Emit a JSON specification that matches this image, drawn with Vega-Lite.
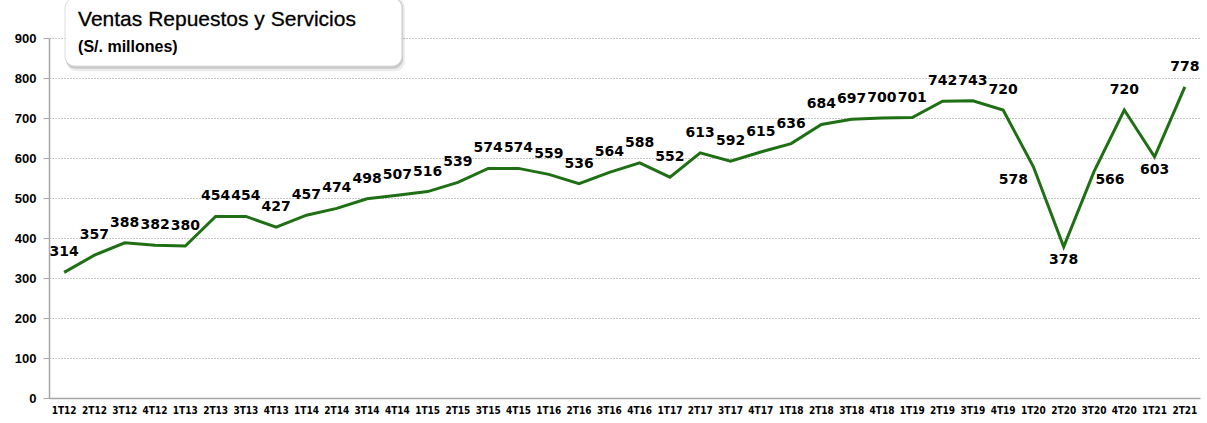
{
  "$schema": "https://vega.github.io/schema/vega-lite/v6.json",
  "width": 1151,
  "height": 360,
  "autosize": {"type": "none"},
  "padding": {"left": 49, "top": 38, "right": 7, "bottom": 25},
  "background": "white",
  "config": {
    "view": {"stroke": null},
    "axisX": {"title": null, "labelAngle": 0, "ticks": false, "domainColor": "#a6a6a6", "domainWidth": 1.5,
      "labelPadding": 7, "labelFont": "DejaVu Sans Condensed", "labelFontWeight": "bold", "labelFontSize": 10,
      "labelColor": "#000000", "grid": false},
    "axisY": {"title": null, "tickCount": 9, "tickColor": "#a6a6a6", "tickSize": 6,
      "domainColor": "#a6a6a6", "domainWidth": 1.5, "labelPadding": 7, "labelFont": "Liberation Sans",
      "labelFontWeight": "bold", "labelFontSize": 13, "labelColor": "#000000",
      "grid": true, "gridDash": [1, 2], "gridColor": "#8c8c8c", "gridWidth": 1}
  },
  "data": {
    "values": [
      {"q": "1T12", "v": 314}, {"q": "2T12", "v": 357}, {"q": "3T12", "v": 388}, {"q": "4T12", "v": 382},
      {"q": "1T13", "v": 380}, {"q": "2T13", "v": 454}, {"q": "3T13", "v": 454}, {"q": "4T13", "v": 427},
      {"q": "1T14", "v": 457}, {"q": "2T14", "v": 474}, {"q": "3T14", "v": 498}, {"q": "4T14", "v": 507},
      {"q": "1T15", "v": 516}, {"q": "2T15", "v": 539}, {"q": "3T15", "v": 574}, {"q": "4T15", "v": 574},
      {"q": "1T16", "v": 559}, {"q": "2T16", "v": 536}, {"q": "3T16", "v": 564}, {"q": "4T16", "v": 588},
      {"q": "1T17", "v": 552}, {"q": "2T17", "v": 613}, {"q": "3T17", "v": 592}, {"q": "4T17", "v": 615},
      {"q": "1T18", "v": 636}, {"q": "2T18", "v": 684}, {"q": "3T18", "v": 697}, {"q": "4T18", "v": 700},
      {"q": "1T19", "v": 701}, {"q": "2T19", "v": 742}, {"q": "3T19", "v": 743}, {"q": "4T19", "v": 720},
      {"q": "1T20", "v": 578}, {"q": "2T20", "v": 378}, {"q": "3T20", "v": 566}, {"q": "4T20", "v": 720},
      {"q": "1T21", "v": 603}, {"q": "2T21", "v": 778}
    ]
  },
  "layer": [
    {
      "mark": {"type": "line", "color": "#1f6f14", "strokeWidth": 3},
      "encoding": {
        "x": {
          "field": "q", "type": "ordinal",
          "scale": {"type": "band", "paddingInner": 0, "paddingOuter": 0,
            "domain": ["1T12","2T12","3T12","4T12","1T13","2T13","3T13","4T13","1T14","2T14","3T14","4T14","1T15","2T15","3T15","4T15","1T16","2T16","3T16","4T16","1T17","2T17","3T17","4T17","1T18","2T18","3T18","4T18","1T19","2T19","3T19","4T19","1T20","2T20","3T20","4T20","1T21","2T21"]}
        },
        "y": {"field": "v", "type": "quantitative", "scale": {"domain": [0, 900], "nice": false}}
      }
    },
    {
      "transform": [{"filter": {"not": {"field": "q", "oneOf": ["1T20", "2T20", "3T20", "1T21"]}}}],
      "mark": {"type": "text", "font": "DejaVu Sans", "fontWeight": "bold", "fontSize": 14, "dy": -20, "baseline": "middle", "color": "#000000"},
      "encoding": {"x": {"field": "q", "type": "ordinal"}, "y": {"field": "v", "type": "quantitative"}, "text": {"field": "v", "type": "quantitative"}}
    },
    {
      "transform": [{"filter": {"field": "q", "oneOf": ["2T20", "1T21"]}}],
      "mark": {"type": "text", "font": "DejaVu Sans", "fontWeight": "bold", "fontSize": 14, "dy": 13, "baseline": "middle", "color": "#000000"},
      "encoding": {"x": {"field": "q", "type": "ordinal"}, "y": {"field": "v", "type": "quantitative"}, "text": {"field": "v", "type": "quantitative"}}
    },
    {
      "transform": [{"filter": {"field": "q", "equal": "1T20"}}],
      "mark": {"type": "text", "font": "DejaVu Sans", "fontWeight": "bold", "fontSize": 14, "dx": -20, "dy": 13, "baseline": "middle", "color": "#000000"},
      "encoding": {"x": {"field": "q", "type": "ordinal"}, "y": {"field": "v", "type": "quantitative"}, "text": {"field": "v", "type": "quantitative"}}
    },
    {
      "transform": [{"filter": {"field": "q", "equal": "3T20"}}],
      "mark": {"type": "text", "font": "DejaVu Sans", "fontWeight": "bold", "fontSize": 14, "dx": 16, "dy": 8, "baseline": "middle", "color": "#000000"},
      "encoding": {"x": {"field": "q", "type": "ordinal"}, "y": {"field": "v", "type": "quantitative"}, "text": {"field": "v", "type": "quantitative"}}
    },
    {
      "data": {"values": [{"k": "shadow1"}]},
      "mark": {"type": "rect", "color": "#000000", "opacity": 0.08, "cornerRadius": 10},
      "encoding": {
        "x": {"datum": "1T12", "type": "ordinal", "bandPosition": 0.58},
        "x2": {"datum": "4T14", "bandPosition": 0.75},
        "y": {"datum": 1000, "type": "quantitative"},
        "y2": {"datum": 817}
      }
    },
    {
      "data": {"values": [{"k": "shadow2"}]},
      "mark": {"type": "rect", "color": "#000000", "opacity": 0.14, "cornerRadius": 10},
      "encoding": {
        "x": {"datum": "1T12", "type": "ordinal", "bandPosition": 0.55},
        "x2": {"datum": "4T14", "bandPosition": 0.69},
        "y": {"datum": 1000, "type": "quantitative"},
        "y2": {"datum": 823}
      }
    },
    {
      "data": {"values": [{"k": "box"}]},
      "mark": {"type": "rect", "color": "#ffffff", "stroke": "#dcdcdc", "strokeWidth": 1, "cornerRadius": 10},
      "encoding": {
        "x": {"datum": "1T12", "type": "ordinal", "bandPosition": 0.53},
        "x2": {"datum": "4T14", "bandPosition": 0.65},
        "y": {"datum": 1000, "type": "quantitative"},
        "y2": {"datum": 830}
      }
    },
    {
      "data": {"values": [{"t": "Ventas Repuestos y Servicios"}]},
      "mark": {"type": "text", "align": "left", "baseline": "alphabetic", "font": "Liberation Sans", "fontSize": 21, "color": "#000000", "stroke": "#000000", "strokeWidth": 0.3},
      "encoding": {
        "x": {"datum": "1T12", "type": "ordinal", "bandPosition": 0.96},
        "y": {"datum": 930, "type": "quantitative"},
        "text": {"field": "t", "type": "nominal"}
      }
    },
    {
      "data": {"values": [{"t": "(S/. millones)"}]},
      "mark": {"type": "text", "align": "left", "baseline": "alphabetic", "font": "Liberation Sans", "fontWeight": "bold", "fontSize": 16, "color": "#000000"},
      "encoding": {
        "x": {"datum": "1T12", "type": "ordinal", "bandPosition": 0.96},
        "y": {"datum": 865, "type": "quantitative"},
        "text": {"field": "t", "type": "nominal"}
      }
    }
  ]
}
